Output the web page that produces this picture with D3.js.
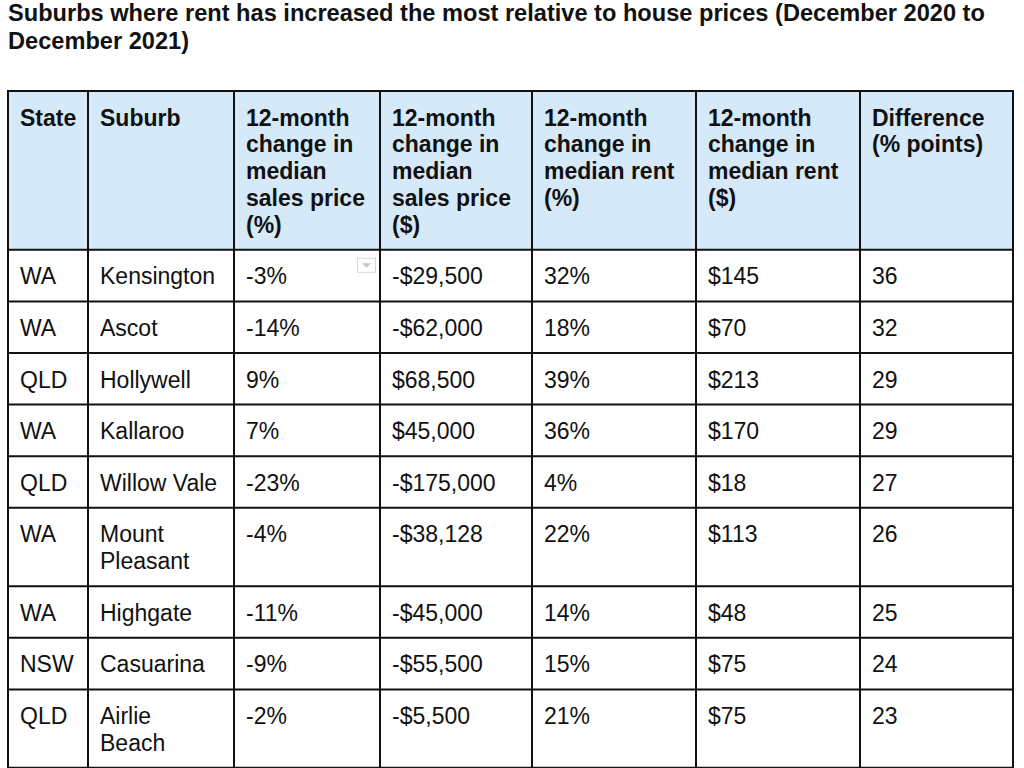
<!DOCTYPE html>
<html><head><meta charset="utf-8">
<script src="https://cdn.jsdelivr.net/npm/d3@7"></script>
<style>
body{margin:0;background:#fff}
svg{display:block;font-family:"Liberation Sans",Arial,Helvetica,sans-serif}
</style>
</head><body>
<svg id="chart" width="1024" height="768"></svg>
<script>
// ---- data ----
const title = "Suburbs where rent has increased the most relative to house prices (December 2020 to December 2021)";
const headers = ["State", "Suburb",
  "12-month change in median sales price (%)",
  "12-month change in median sales price ($)",
  "12-month change in median rent (%)",
  "12-month change in median rent ($)",
  "Difference (% points)"];
const states = ["WA", "WA", "QLD", "WA", "QLD", "WA", "WA", "NSW", "QLD"];
const suburbs = ["Kensington", "Ascot", "Hollywell", "Kallaroo", "Willow Vale", "Mount Pleasant", "Highgate", "Casuarina", "Airlie Beach"];
const salesPricePct = [-3, -14, 9, 7, -23, -4, -11, -9, -2];
const salesPriceDollar = [-29500, -62000, 68500, 45000, -175000, -38128, -45000, -55500, -5500];
const rentPct = [32, 18, 39, 36, 4, 22, 14, 15, 21];
const rentDollar = [145, 70, 213, 170, 18, 113, 48, 75, 75];
const difference = [36, 32, 29, 29, 27, 26, 25, 24, 23];

// ---- layout ----
const colEdges = [8, 88, 234, 380, 532, 696, 860, 1013];
const tableTop = 91;
const fontSize = 23, lineH = 26.8, padV = 24.8, padX = 12, baseOff = 34.5;
const headerBg = "#d6e9f9";

const fmtNum = d3.format(",");
const pct = d => d + "%";
const money = d => (d < 0 ? "-$" : "$") + fmtNum(Math.abs(d));

const rows = states.map((s, i) => [
  s, suburbs[i], pct(salesPricePct[i]), money(salesPriceDollar[i]),
  pct(rentPct[i]), money(rentDollar[i]), String(difference[i])
]);

const svg = d3.select("#chart");
const x = d3.scaleOrdinal().domain(d3.range(7)).range(colEdges.slice(0, 7));
const colW = i => colEdges[i + 1] - colEdges[i];

function wrapLines(textSel, str, maxW) {
  const words = str.split(/\s+/);
  const lines = [];
  let cur = "";
  const probe = textSel.append("tspan");
  words.forEach(w => {
    const test = cur ? cur + " " + w : w;
    probe.text(test);
    if (probe.node().getComputedTextLength() > maxW && cur) {
      lines.push(cur); cur = w;
    } else cur = test;
  });
  if (cur) lines.push(cur);
  probe.remove();
  return lines;
}

// title
const tTitle = svg.append("text")
  .attr("x", 8).attr("y", 21)
  .attr("font-size", 23.6).attr("font-weight", "bold").attr("fill", "#111");
const tLines = wrapLines(tTitle, title, 1008);
tTitle.selectAll("tspan").data(tLines).join("tspan")
  .attr("x", 8).attr("y", (d, i) => 21 + i * 27.5).text(d => d);

const gBg = svg.append("g");
const gText = svg.append("g");
const gGrid = svg.append("g");

function drawRow(cells, top, bold) {
  const g = gText.append("g");
  let maxLines = 1;
  cells.forEach((c, ci) => {
    const t = g.append("text")
      .attr("font-size", fontSize)
      .attr("font-weight", bold ? "bold" : "normal")
      .attr("fill", "#111");
    const lines = wrapLines(t, c, colW(ci) - 2 * padX);
    maxLines = Math.max(maxLines, lines.length);
    t.selectAll("tspan").data(lines).join("tspan")
      .attr("x", x(ci) + padX)
      .attr("y", (d, li) => top + baseOff + li * lineH)
      .text(d => d);
  });
  return padV + maxLines * lineH;
}

const rowTops = [tableTop];
let y = tableTop;
const hH = drawRow(headers, y, true);
gBg.append("rect").attr("x", colEdges[0]).attr("y", y)
  .attr("width", colEdges[7] - colEdges[0]).attr("height", hH).attr("fill", headerBg);
y += hH; rowTops.push(y);
rows.forEach(r => { y += drawRow(r, y, false); rowTops.push(y); });

// dropdown icon in first data cell of column 3
const ic = gText.append("g").attr("transform", `translate(${colEdges[3] - 23},${rowTops[1] + 8})`);
ic.append("rect").attr("x", 0.5).attr("y", 0.5).attr("width", 18).attr("height", 14)
  .attr("fill", "#fff").attr("stroke", "#d8d8d8");
ic.append("path").attr("d", "M5,5.5 L14,5.5 L9.5,10 Z").attr("fill", "#c4c4c4");

// grid lines
const bottom = y;
gGrid.selectAll("line.h").data(rowTops).join("line")
  .attr("x1", colEdges[0] - 1).attr("x2", colEdges[7] + 1)
  .attr("y1", d => d).attr("y2", d => d)
  .attr("stroke", "#111").attr("stroke-width", 2);
gGrid.selectAll("line.v").data(colEdges).join("line")
  .attr("x1", d => d).attr("x2", d => d)
  .attr("y1", tableTop).attr("y2", bottom + 10)
  .attr("stroke", "#111").attr("stroke-width", 2);
</script>
</body></html>
